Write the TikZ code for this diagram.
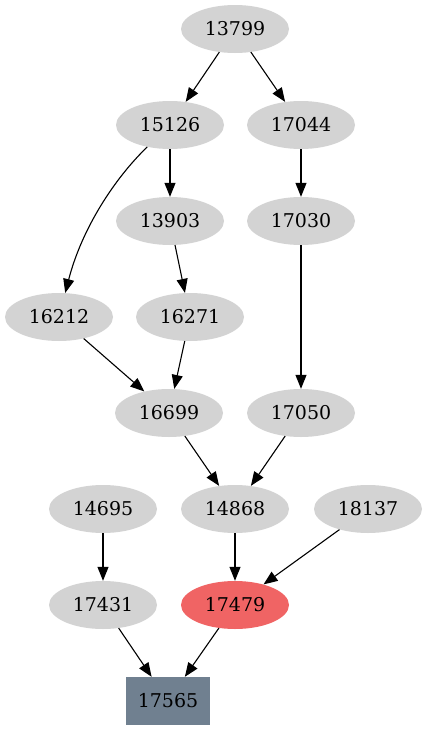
\documentclass[tikz,border=0pt]{standalone}
\usepackage{fontspec}
\setmainfont{DejaVu Serif}
\usetikzlibrary{shapes.geometric,arrows.meta}
\definecolor{nodegray}{HTML}{D3D3D3}
\definecolor{nodered}{HTML}{F06464}
\definecolor{boxslate}{HTML}{708090}
\begin{document}
\begin{tikzpicture}[x=1pt,y=-1pt,
  every node/.style={font=\fontsize{19}{23}\selectfont},
  gnode/.style={ellipse,fill=nodegray,minimum width=108pt,minimum height=48pt,inner sep=0pt},
  rnode/.style={ellipse,fill=nodered,minimum width=108pt,minimum height=48pt,inner sep=0pt},
  bnode/.style={rectangle,fill=boxslate,minimum width=84pt,minimum height=48pt,inner sep=0pt},
  edge/.style={line width=1.1pt,-{Triangle[length=14pt,width=11pt]}}]
\useasboundingbox (0,0) rectangle (426,731);
\node[gnode] (n13799) at (235,29) {13799};
\node[gnode] (n15126) at (170,125) {15126};
\node[gnode] (n17044) at (301,125) {17044};
\node[gnode] (n13903) at (170,221) {13903};
\node[gnode] (n17030) at (301,221) {17030};
\node[gnode] (n16212) at (59,317) {16212};
\node[gnode] (n16271) at (190,317) {16271};
\node[gnode] (n16699) at (169,413) {16699};
\node[gnode] (n17050) at (301,413) {17050};
\node[gnode] (n14695) at (103,509) {14695};
\node[gnode] (n14868) at (235,509) {14868};
\node[gnode] (n18137) at (368,509) {18137};
\node[gnode] (n17431) at (103,605) {17431};
\node[rnode] (n17479) at (235,605) {17479};
\node[bnode] (n17565) at (168,701) {17565};
\draw[edge] (n13799) -- (n15126);
\draw[edge] (n13799) -- (n17044);
\draw[edge] (n15126) .. controls (115,178) and (82,228) .. (n16212);
\draw[edge] (n15126) -- (n13903);
\draw[edge] (n17044) -- (n17030);
\draw[edge] (n13903) -- (n16271);
\draw[edge] (n17030) -- (n17050);
\draw[edge] (n16212) -- (n16699);
\draw[edge] (n16271) -- (n16699);
\draw[edge] (n16699) -- (n14868);
\draw[edge] (n17050) -- (n14868);
\draw[edge] (n14695) -- (n17431);
\draw[edge] (n14868) -- (n17479);
\draw[edge] (n18137) -- (n17479);
\draw[edge] (n17431) -- (n17565);
\draw[edge] (n17479) -- (n17565);
\end{tikzpicture}
\end{document}
